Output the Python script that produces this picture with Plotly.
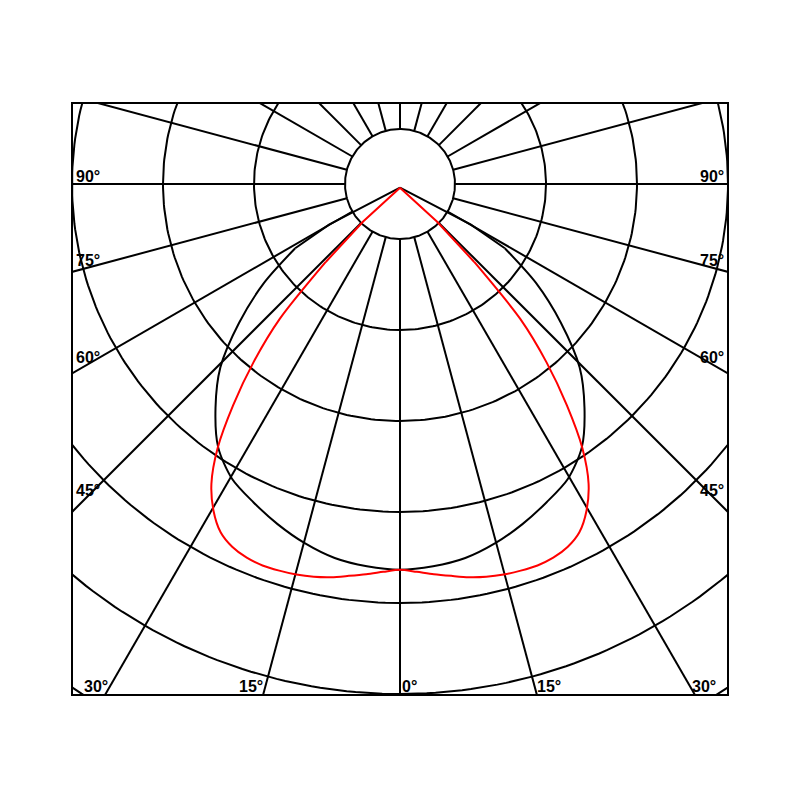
import numpy as np
import plotly.graph_objects as go

# ================= data =================
# radial unit = 1 px of the 800x800 picture, angle measured from nadir (0° = straight down)
RING_RADII = [55, 146, 237, 328, 419, 510, 601]          # hub circle + concentric rings
SPOKE_ANGLES = [0, 15, 30, 45, 60, 75, 90, 105, 120, 135, 150, 165, 180]
LABEL_ANGLES = [0, 15, 30, 45, 60, 75, 90]
LABEL_TEXT = ["0°", "15°", "30°", "45°", "60°", "75°", "90°"]

# red curve (symmetric, half given)
RED_ANGLES = [0, 2.5, 5, 7.5, 10, 12.5, 15, 17.5, 20, 22.5, 25, 27.5, 30,
              32.5, 35, 37.5, 40, 42.5, 45, 47.5, 50]
RED_VALUES = [382, 384.5, 388, 391.5, 395.5, 398.5, 400.5, 401.5, 402, 400.5, 396.5, 388.5, 373,
              351, 318, 274, 228, 178, 105, 50, 0]

# black curve (symmetric, half given)
BLACK_ANGLES = [0, 5, 10, 15, 20, 25, 30, 35, 40, 45, 50, 55, 60, 62.5, 65]
BLACK_VALUES = [382, 380, 376, 368, 358, 347, 336, 317, 287, 254, 210, 166, 121, 80, 0]

HUB = RING_RADII[0]
SPOKE_END = 800
CURVE_DY = -3.7          # origin of the curves sits slightly below the grid centre
X_RANGE = [-327, 327]
Y_RANGE = [-510, 80]
LABEL_FONT = dict(family="Liberation Sans, Arial", size=16, color="black", weight="bold")


def to_xy(angles_deg, r, dy=0.0):
    t = np.radians(np.asarray(angles_deg, dtype=float))
    r = np.asarray(r, dtype=float)
    return r * np.sin(t), -r * np.cos(t) + dy


def mirror(angles, values):
    a = [-x for x in reversed(angles)] + list(angles[1:])
    v = list(reversed(values)) + list(values[1:])
    return a, v


def add_curve(fig, angles, values, color, n_tail):
    # smooth body + straight tails into the origin (a spline would round the apex)
    a, v = mirror(angles, values)
    x, y = to_xy(a, v, CURVE_DY)
    body = slice(n_tail, len(a) - n_tail)
    fig.add_trace(go.Scatter(x=x[body], y=y[body], mode="lines",
                             line=dict(color=color, width=2, shape="spline", smoothing=0.8),
                             hoverinfo="skip"))
    tx = list(x[:n_tail + 1]) + [None] + list(x[-n_tail - 1:])
    ty = list(y[:n_tail + 1]) + [None] + list(y[-n_tail - 1:])
    fig.add_trace(go.Scatter(x=tx, y=ty, mode="lines",
                             line=dict(color=color, width=2), hoverinfo="skip"))


fig = go.Figure()

# --- concentric rings ---
ring_x, ring_y = [], []
circ = np.linspace(0, 360, 361)
for rr in RING_RADII:
    x, y = to_xy(circ, np.full(circ.size, rr))
    ring_x += list(x) + [None]
    ring_y += list(y) + [None]
fig.add_trace(go.Scatter(x=ring_x, y=ring_y, mode="lines",
                         line=dict(color="black", width=2), hoverinfo="skip"))

# --- spokes (start at the hub circle) ---
sp_x, sp_y = [], []
for a in SPOKE_ANGLES:
    sides = [1] if a in (0, 180) else [-1, 1]
    for s in sides:
        x, y = to_xy([s * a, s * a], [HUB, SPOKE_END])
        sp_x += list(x) + [None]
        sp_y += list(y) + [None]
fig.add_trace(go.Scatter(x=sp_x, y=sp_y, mode="lines",
                         line=dict(color="black", width=2), hoverinfo="skip"))

# --- curves ---
add_curve(fig, BLACK_ANGLES, BLACK_VALUES, "black", 2)
add_curve(fig, RED_ANGLES, RED_VALUES, "red", 2)

# --- angle labels ---
annotations = []
for a, txt in zip(LABEL_ANGLES, LABEL_TEXT):
    sides = [1] if a == 0 else [-1, 1]
    for s in sides:
        t = np.radians(a)
        if a >= 45:
            # on the side frame, sitting on the spoke
            xc = X_RANGE[1] - 13
            annotations.append(dict(
                x=s * X_RANGE[1], y=-xc * np.cos(t) / np.sin(t),
                text=txt, showarrow=False, font=LABEL_FONT,
                xanchor="left" if s < 0 else "right", yanchor="bottom",
                xshift=-s * 1, yshift=-3))
        else:
            # on the bottom frame, outside the spoke
            annotations.append(dict(
                x=s * (-Y_RANGE[0] - 7) * np.tan(t), y=Y_RANGE[0],
                text=txt, showarrow=False, font=LABEL_FONT,
                xanchor="right" if s < 0 else "left", yanchor="bottom",
                yshift=-3))

# the page body adds 8 px, so the margins are set 8 px smaller on the top/left
fig.update_layout(
    width=800, height=800,
    margin=dict(l=65, r=81, t=96, b=114),
    paper_bgcolor="white", plot_bgcolor="white",
    showlegend=False,
    annotations=annotations,
)
axis_style = dict(showgrid=False, zeroline=False, showticklabels=False, ticks="",
                  showline=True, mirror=True, linecolor="black", linewidth=2)
fig.update_xaxes(range=X_RANGE, **axis_style)
fig.update_yaxes(range=Y_RANGE, **axis_style)

fig.write_html("out.html")
